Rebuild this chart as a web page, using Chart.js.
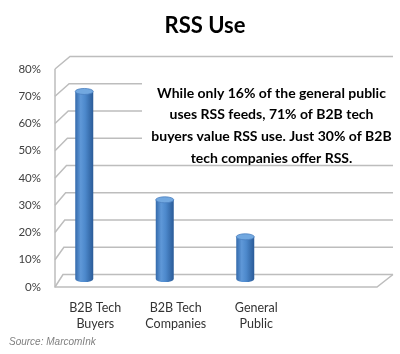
<!DOCTYPE html>
<html><head><meta charset="utf-8">
<script src="https://cdn.jsdelivr.net/npm/chart.js@4"></script>
<style>html,body{margin:0;padding:0;background:#fff}#wrap{width:400px;height:354px}</style>
</head><body><div id="wrap"><canvas id="c" width="400" height="354"></canvas></div>
<script>
const titleText = "RSS Use";
const categories = [["B2B Tech", "Buyers"], ["B2B Tech", "Companies"], ["General", "Public"], ""];
const rssUse = [71, 30, 16];
const yTicks = [0, 10, 20, 30, 40, 50, 60, 70, 80];
const noteLines = ["While only 16% of the general public", "uses RSS feeds, 71% of B2B tech", "buyers value RSS use. Just 30% of B2B", "tech companies offer RSS."];
const sourceText = "Source: MarcomInk";

const GRID = '#bdbdbd';

const rss3d = {
  id: 'rss3d',
  beforeDatasetsDraw(chart) {
    const ctx = chart.ctx, ys = chart.scales.y, ca = chart.chartArea;
    const L = ca.left, R = ca.right;
    ctx.save();
    ctx.strokeStyle = GRID;
    ctx.lineWidth = 1.5;
    yTicks.forEach(v => {
      const yf = ys.getPixelForValue(v);
      const dx = 8 + 7 * v / 80, dy = 12.5;
      ctx.beginPath();
      ctx.moveTo(L, yf);
      ctx.lineTo(L + dx, yf - dy);
      ctx.lineTo(R + 16, yf - dy);
      ctx.stroke();
    });
    const y0 = ys.getPixelForValue(0), yTop = ys.getPixelForValue(80);
    ctx.beginPath();
    ctx.moveTo(L, yTop); ctx.lineTo(L, y0); ctx.lineTo(R, y0); ctx.lineTo(R + 16, y0 - 12.5);
    ctx.stroke();
    // note box
    ctx.fillStyle = '#fff';
    ctx.fillRect(142, 68, 258, 88);
    ctx.fillStyle = '#000';
    ctx.font = 'bold 14px Lato';
    ctx.textAlign = 'center';
    ctx.textBaseline = 'middle';
    noteLines.forEach((t, i) => ctx.fillText(t, 271.5, 93 + i * 21.7));
    // title
    ctx.font = 'bold 22px Lato';
    ctx.fillText(titleText, 205, 26);
    // source
    ctx.font = 'italic 10px "Liberation Sans"';
    ctx.fillStyle = '#7f7f7f';
    ctx.textAlign = 'left';
    ctx.fillText(sourceText, 9, 342);
    ctx.restore();
  },
  afterDatasetsDraw(chart) {
    const ctx = chart.ctx;
    const meta = chart.getDatasetMeta(0);
    ctx.save();
    meta.data.forEach(el => {
      const x = el.x - 11, w = 18, top = el.y, base = el.base, ry = 3;
      const g = ctx.createLinearGradient(x - w / 2, 0, x + w / 2, 0);
      g.addColorStop(0, '#346aab');
      g.addColorStop(0.3, '#5f98d8');
      g.addColorStop(0.55, '#4d89cc');
      g.addColorStop(1, '#2a5b98');
      ctx.fillStyle = g;
      ctx.beginPath();
      ctx.moveTo(x - w / 2, top);
      ctx.lineTo(x - w / 2, base);
      ctx.ellipse(x, base, w / 2, ry, 0, Math.PI, 0, true);
      ctx.lineTo(x + w / 2, top);
      ctx.closePath();
      ctx.fill();
      ctx.beginPath();
      ctx.ellipse(x, top, w / 2, ry, 0, 0, Math.PI * 2);
      ctx.fillStyle = '#72a8e0';
      ctx.fill();
      ctx.strokeStyle = '#4a7fbf';
      ctx.lineWidth = 0.8;
      ctx.stroke();
    });
    ctx.restore();
  }
};

new Chart(document.getElementById('c'), {
  type: 'bar',
  data: {
    labels: categories,
    datasets: [{
      data: rssUse,
      yAxisID: 'yb',
      backgroundColor: 'rgba(0,0,0,0)',
      borderWidth: 0,
      barPercentage: 0.22,
      categoryPercentage: 1
    }]
  },
  options: {
    responsive: false,
    devicePixelRatio: 1,
    animation: false,
    layout: { padding: { left: 0, right: 23, top: 69, bottom: 0 } },
    plugins: { legend: { display: false }, tooltip: { enabled: false }, title: { display: false } },
    scales: {
      x: {
        grid: { display: false, drawTicks: false },
        border: { display: false },
        ticks: { font: { family: 'Lato', size: 12.5, lineHeight: 1.3 }, color: '#333333', padding: 13, maxRotation: 0, autoSkip: false },
        afterFit: s => { s.height = 67; }
      },
      y: {
        min: 0, max: 80,
        grid: { display: false, drawTicks: false },
        border: { display: false },
        ticks: { stepSize: 10, callback: v => v + '%', font: { family: 'Lato', size: 11.5 }, color: '#404040', padding: 14 },
        afterFit: s => { s.width = 55; }
      },
      yb: {
        display: false,
        min: -3, max: 79.5
      }
    }
  },
  plugins: [rss3d]
});
</script>
</body></html>
